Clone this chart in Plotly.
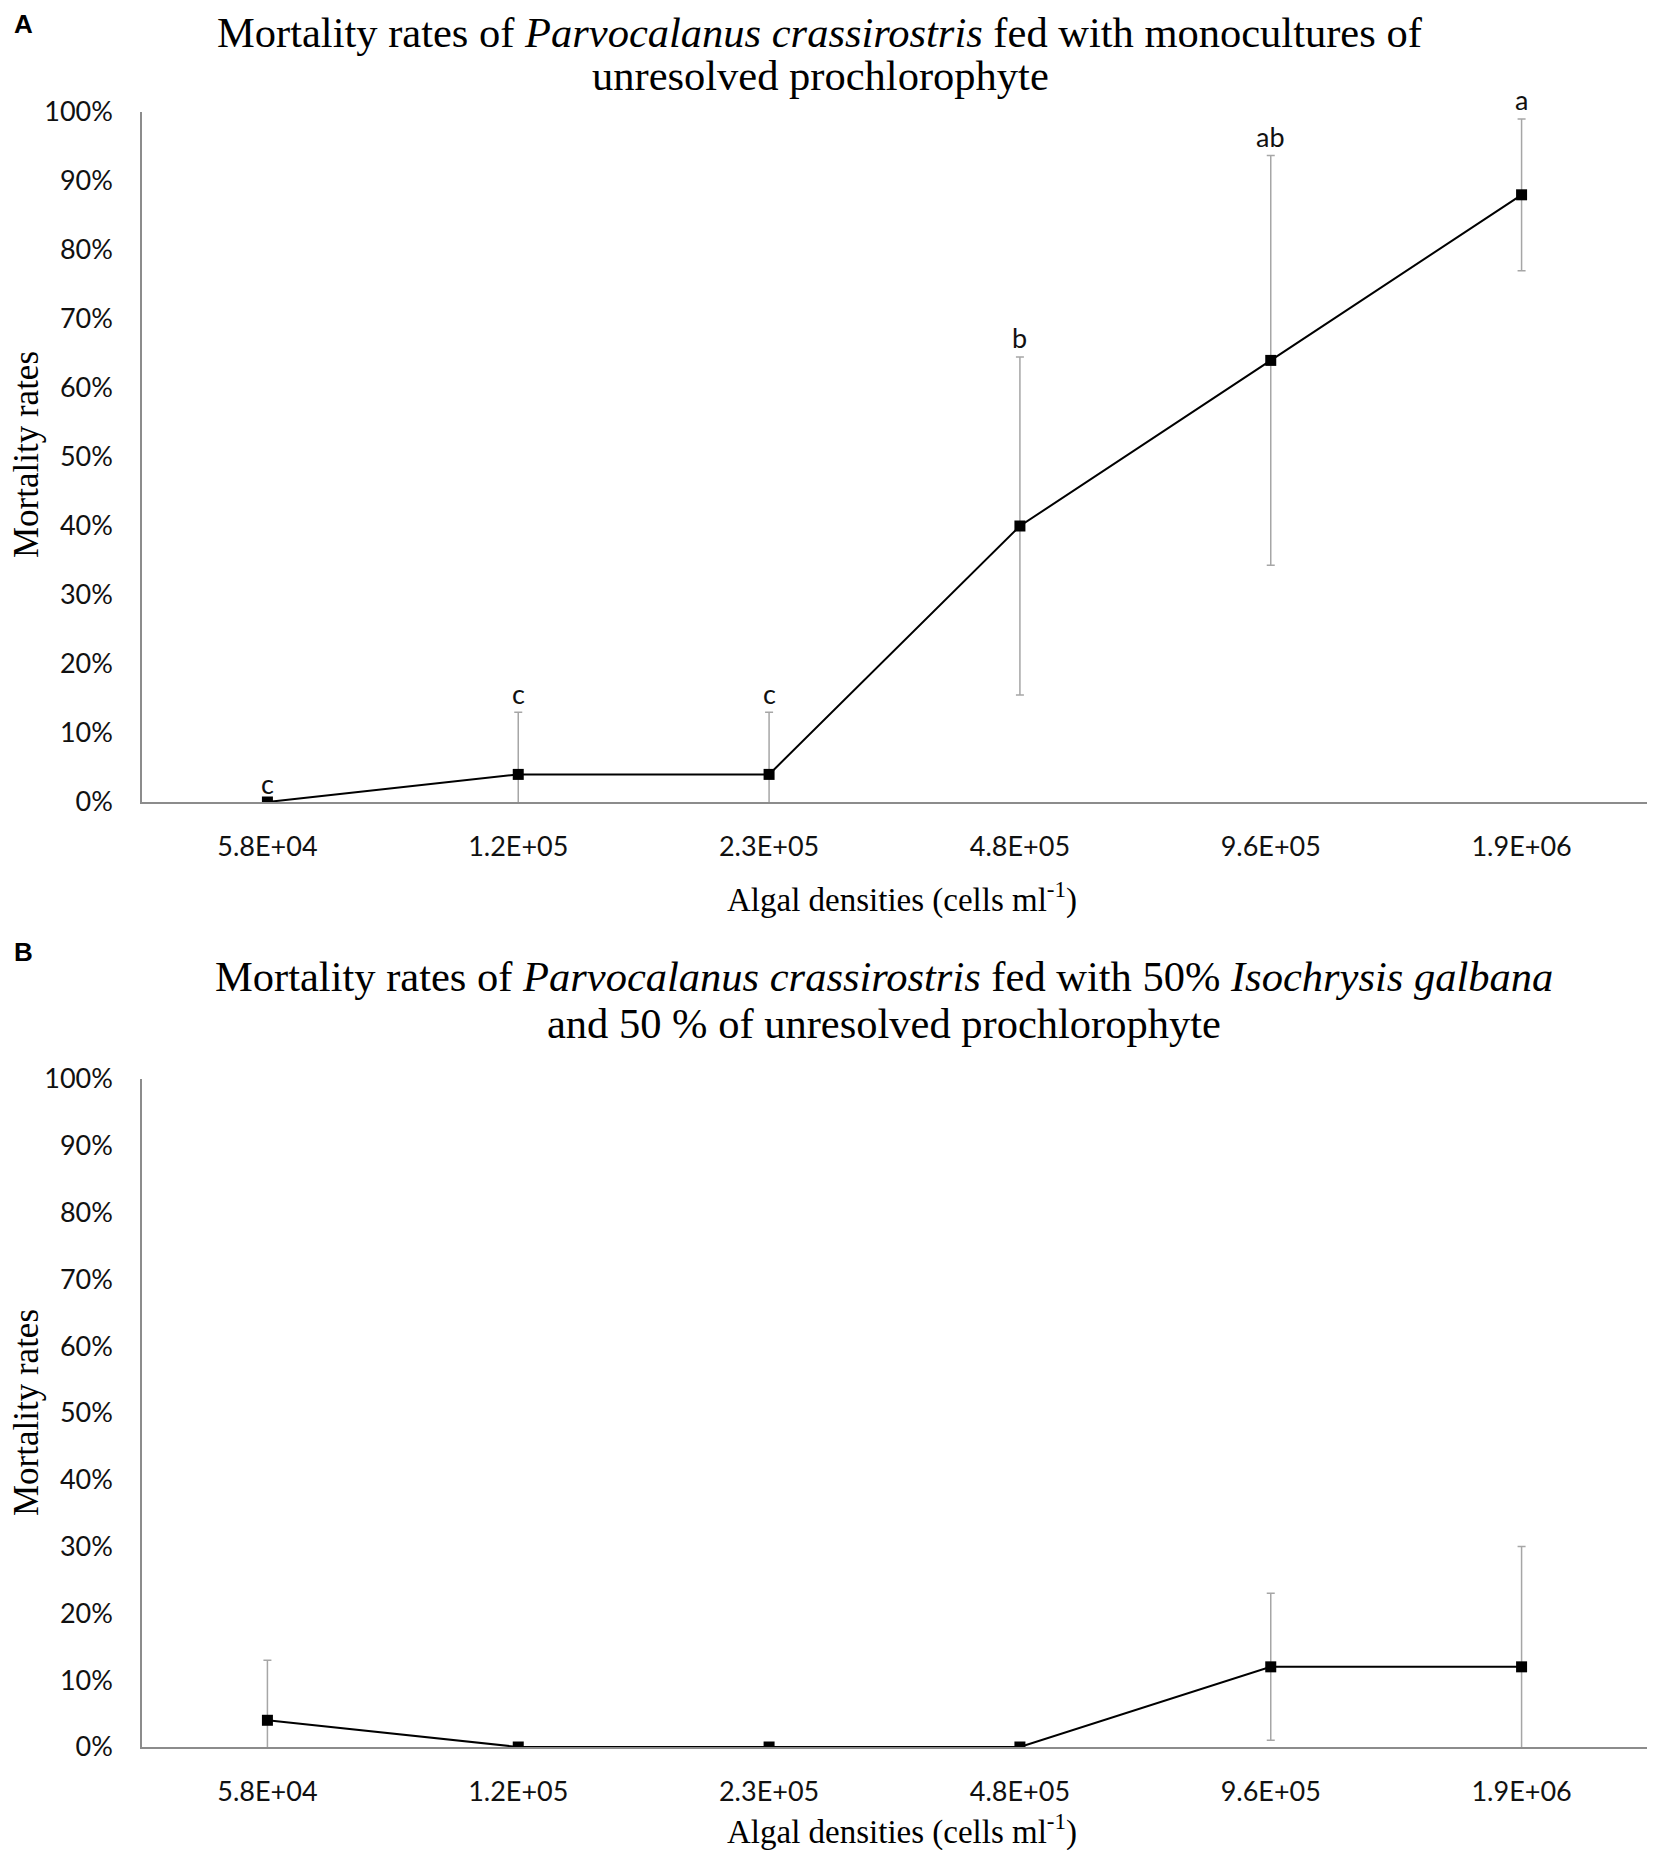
import plotly.graph_objects as go

# --- 데이터 ---
densities = ["5.8E+04", "1.2E+05", "2.3E+05", "4.8E+05", "9.6E+05", "1.9E+06"]

# A: monoculture of unresolved prochlorophyte
mortality_a = [0, 4, 4, 40, 64, 88]
error_a = [None, 9, 9, 24.5, 29.7, 11]
letters_a = ["c", "c", "c", "b", "ab", "a"]

# B: 50% Isochrysis galbana + 50% prochlorophyte
mortality_b = [4, 0, 0, 0, 12, 12]
error_b = [9, None, None, None, 11, 18]

# figure kept inside the page's 8px body margin so nothing scrolls
W, H = 1639, 1842
OFF = 8
LEFT = 134
SERIF = "Liberation Serif, Times New Roman, serif"
SANS = "Lato, Open Sans, sans-serif"


def px_x(x):
    # page pixel x -> paper x
    return (x - OFF - LEFT) / (W - LEFT)


def px_y(y):
    # page pixel y -> paper y
    return 1 - (y - OFF) / H


def add_panel(fig, row, values, errors, letters, title_lines, title_x, title_y, label, label_y, ytitle_y, xtitle_y):
    xa = "x" if row == 1 else "x2"
    ya = "y" if row == 1 else "y2"

    fig.add_trace(go.Scatter(
        x=densities, y=values, xaxis=xa, yaxis=ya,
        mode="lines+markers",
        line=dict(color="black", width=2),
        marker=dict(symbol="square", size=11, color="black"),
        error_y=dict(type="data", array=errors, symmetric=True,
                     color="#a6a6a6", thickness=1.5, width=4),
        showlegend=False,
    ))

    # significance letters above the error bars
    if letters:
        for i, (v, e, t) in enumerate(zip(values, errors, letters)):
            fig.add_annotation(x=i, y=v + (e or 0), xref=xa, yref=ya, text=t,
                               showarrow=False, yanchor="middle", yshift=19,
                               font=dict(family=SANS, size=27, color="#111"))

    for line, ty in zip(title_lines, title_y):
        fig.add_annotation(x=px_x(title_x), y=px_y(ty), xref="paper", yref="paper",
                           text=line, showarrow=False, xanchor="center", yanchor="middle",
                           font=dict(family=SERIF, size=42.5, color="black"))

    fig.add_annotation(x=px_x(23), y=px_y(label_y), xref="paper", yref="paper",
                       text="<b>" + label + "</b>", showarrow=False,
                       xanchor="center", yanchor="middle",
                       font=dict(family="Liberation Sans, Arial, sans-serif", size=26, color="black"))

    fig.add_annotation(x=px_x(26), y=px_y(ytitle_y), xref="paper", yref="paper",
                       text="Mortality rates", textangle=-90, showarrow=False,
                       xanchor="center", yanchor="middle",
                       font=dict(family=SERIF, size=35, color="black"))

    fig.add_annotation(x=px_x(902), y=px_y(xtitle_y), xref="paper", yref="paper",
                       text="Algal densities (cells ml<sup>-1</sup>)", showarrow=False,
                       xanchor="center", yanchor="middle",
                       font=dict(family=SERIF, size=33, color="black"))


fig = go.Figure()

add_panel(fig, 1, mortality_a, error_a, letters_a,
          ["Mortality rates of <i>Parvocalanus crassirostris</i> fed with monocultures of",
           "unresolved prochlorophyte"],
          820, [32, 75], "A", 24, 455, 897)

add_panel(fig, 2, mortality_b, error_b, None,
          ["Mortality rates of <i>Parvocalanus crassirostris</i> fed with 50% <i>Isochrysis galbana</i>",
           "and 50 % of unresolved prochlorophyte"],
          884, [976, 1023], "B", 952, 1413, 1829)

xaxis_style = dict(
    type="category", range=[-0.5, 5.5], showline=True, linecolor="#8c8c8c", linewidth=1.5,
    showgrid=False, zeroline=False, ticks="", ticklabelstandoff=20, automargin=False,
    tickfont=dict(family=SANS, size=27, color="#111"), domain=[0, 1],
)
yaxis_style = dict(
    range=[0, 100], dtick=10, ticksuffix="%", showline=True, linecolor="#8c8c8c", linewidth=1.5,
    showgrid=False, zeroline=False, ticks="", ticklabelstandoff=22, automargin=False,
    tickfont=dict(family=SANS, size=27, color="#111"),
)

fig.update_layout(
    width=W, height=H,
    margin=dict(l=LEFT, r=0, t=0, b=0, pad=0),
    paper_bgcolor="white", plot_bgcolor="white",
    xaxis=dict(xaxis_style, anchor="y"),
    yaxis=dict(yaxis_style, anchor="x", domain=[px_y(802), px_y(112)]),
    xaxis2=dict(xaxis_style, anchor="y2"),
    yaxis2=dict(yaxis_style, anchor="x2", domain=[px_y(1747), px_y(1079)]),
)

fig.write_html("out.html")
